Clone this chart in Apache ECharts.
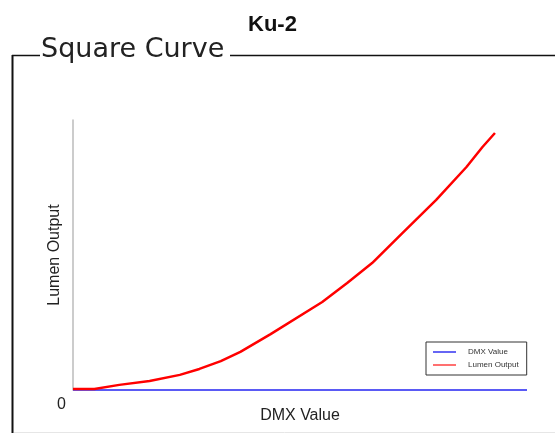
<!DOCTYPE html>
<html>
<head>
<meta charset="utf-8">
<script src="https://cdn.jsdelivr.net/npm/echarts@6/dist/echarts.min.js"></script>
<style>
  html, body { margin: 0; padding: 0; background: #fff; }
  #chart { width: 555px; height: 433px; }
</style>
</head>
<body>
<div id="chart"></div>
<script>
// DMX 0..255 on x, lumen output 0..100 on y
var dmxX = [0, 255];
var dmxY = [0, 0];

var lumenX = [0, 12, 26, 43, 60, 71, 83, 94, 111, 140, 154, 168, 185, 204, 221, 230, 237];
var lumenY = [0.4, 0.4, 1.9, 3.3, 5.6, 7.8, 10.7, 14.1, 20.7, 32.6, 39.6, 47.0, 58.1, 70.4, 82.6, 90.0, 95.2];

var yTickLabels = ['0'];

function pairs (xs, ys) {
  return xs.map(function (x, i) { return [x, ys[i]] })
}

var chart = echarts.init(document.getElementById('chart'))

var option = {
  animation: false,
  title: {
    text: 'Ku-2',
    left: 243,
    top: 9,
    textStyle: {
      fontFamily: 'Liberation Sans',
      fontWeight: 'bold',
      fontSize: 22,
      color: '#111'
    }
  },
  graphic: [
    // frame round the chart, with a gap for the caption
    { type: 'line', shape: { x1: 12.5, y1: 55, x2: 12.5, y2: 433 }, style: { stroke: '#111', lineWidth: 2 } },
    { type: 'line', shape: { x1: 12, y1: 55.5, x2: 40, y2: 55.5 }, style: { stroke: '#111', lineWidth: 1.5 } },
    { type: 'line', shape: { x1: 230, y1: 55.5, x2: 555, y2: 55.5 }, style: { stroke: '#111', lineWidth: 1.5 } },
    { type: 'line', shape: { x1: 14, y1: 432.5, x2: 555, y2: 432.5 }, style: { stroke: '#e6e6e6', lineWidth: 1 } },
    {
      type: 'text',
      left: 41,
      top: 36,
      style: {
        text: 'Square Curve',
        fontFamily: 'DejaVu Sans',
        fontSize: 27,
        fill: '#222'
      }
    }
  ],
  grid: {
    left: 73,
    right: 28,
    top: 120,
    bottom: 43
  },
  legend: {
    orient: 'vertical',
    left: 426,
    top: 342,
    padding: [5, 8, 5, 7],
    icon: 'rect',
    itemWidth: 23,
    itemHeight: 1.5,
    itemGap: 3,
    borderColor: '#333',
    borderWidth: 1,
    backgroundColor: '#fff',
    textStyle: {
      fontFamily: 'Liberation Sans',
      fontSize: 8,
      lineHeight: 10,
      color: '#333',
      padding: [0, 0, 0, 7]
    },
    data: ['DMX Value', 'Lumen Output']
  },
  xAxis: {
    type: 'value',
    min: 0,
    max: 255,
    name: 'DMX Value',
    nameLocation: 'middle',
    nameGap: 18,
    nameTextStyle: { fontFamily: 'Liberation Sans', fontSize: 16, color: '#222' },
    axisLine: { show: false },
    axisTick: { show: false },
    axisLabel: { show: false },
    splitLine: { show: false }
  },
  yAxis: {
    type: 'value',
    min: 0,
    max: 100,
    interval: 100,
    name: 'Lumen Output',
    nameLocation: 'middle',
    nameGap: 10,
    nameMoveOverlap: false,
    nameTextStyle: { fontFamily: 'Liberation Sans', fontSize: 16, color: '#222' },
    axisLine: { show: true, lineStyle: { color: '#bbb', width: 1.5 } },
    axisTick: { show: false },
    axisLabel: {
      margin: 7,
      verticalAlign: 'top',
      padding: [7, 0, 0, 0],
      fontFamily: 'Liberation Sans',
      fontSize: 16,
      color: '#222',
      formatter: function (v) { return v === 0 ? yTickLabels[0] : '' }
    },
    splitLine: { show: false }
  },
  series: [
    {
      name: 'DMX Value',
      type: 'line',
      symbol: 'none',
      color: '#3333f0',
      lineStyle: { width: 2, color: '#5a5af5' },
      data: pairs(dmxX, dmxY),
      z: 2
    },
    {
      name: 'Lumen Output',
      type: 'line',
      symbol: 'none',
      color: '#ff4040',
      lineStyle: { width: 2.5, color: '#ff0000' },
      data: pairs(lumenX, lumenY),
      z: 3
    }
  ]
}

chart.setOption(option)
</script>
</body>
</html>
